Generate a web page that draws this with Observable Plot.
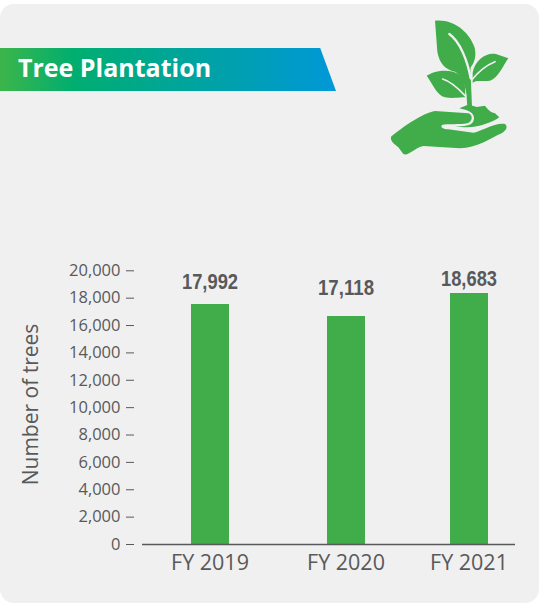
<!DOCTYPE html>
<html><head><meta charset="utf-8">
<script src="https://cdn.jsdelivr.net/npm/d3@7"></script>
<script src="https://cdn.jsdelivr.net/npm/@observablehq/plot@0.6"></script>
<style>
html,body{margin:0;padding:0;background:#fff;}
body{width:539px;height:603px;overflow:hidden;position:relative;}
#card{position:absolute;left:0;top:4px;width:539px;height:599px;background:#f0f0f0;border-radius:14px;overflow:hidden;}
#banner{position:absolute;left:0;top:43.5px;width:336px;height:43.5px;
background:linear-gradient(90deg,#3cb54a 0%,#00ae70 22%,#0098d8 100%);
clip-path:polygon(0 0,320px 0,336px 100%,0 100%);}
#banner span{position:absolute;left:18px;top:-2px;font:700 25px/42px "Open Sans",sans-serif;color:#fff;}
#icon{position:absolute;left:380px;top:6px;}
#chart{position:absolute;left:0;top:246px;}
</style></head>
<body>
<div id="card">
<div id="banner"><span>Tree Plantation</span></div>
<svg id="icon" width="140" height="150" viewBox="0 0 420 450">
<g fill="#40ad4a">
<path d="M165 32C215 26 265 60 283 110C290 135 285 155 272 172L268 230L272 245L264 262C250 215 250 200 225 185C195 178 178 160 172 125Z"/>
<path d="M278 188C285 150 320 125 350 133L385 145C370 165 355 205 330 212C310 216 290 208 278 218Z"/>
<path d="M140 197C165 180 215 175 240 195C256 210 257 235 255 262C245 262 215 266 195 262C170 255 160 225 140 197Z"/>
<path d="M256 200L272 196L276 290L262 292Z"/>
<path d="M238 295L262 285L278 287L290 291L315 287C325 300 330 305 345 310L358 322C340 335 300 352 262 352C250 352 235 350 225 347C260 352 282 345 282 325C282 310 270 302 238 295Z"/>
<path d="M33 380C70 350 130 308 165 303L265 310C280 315 278 335 262 340C240 345 200 340 186 345C180 352 190 358 205 358L280 368C300 365 350 335 375 342C385 350 378 362 365 370C330 385 290 415 240 415L130 408C105 412 85 440 70 432L55 412C45 402 30 395 33 380Z"/>
</g>
<g fill="none" stroke="#f0f0f0" stroke-linecap="round">
<path d="M208 72C240 95 262 150 272 205" stroke-width="7"/>
<path d="M275 210C295 185 320 165 345 155" stroke-width="5"/>
<path d="M188 207C215 215 235 235 256 258" stroke-width="5"/>
</g>
</svg>
</div>
<div id="chart"></div>
<script>
const fiscalYears = [2019, 2020, 2021];
const printedValues = [17992, 17118, 18683];
const barHeights = [17540, 16660, 18340];
const labelLevels = [19220, 18780, 19440];
const yTicks = [0, 2000, 4000, 6000, 8000, 10000, 12000, 14000, 16000, 18000, 20000];
const yTitle = ["Number of trees"];
const yTitleLevel = 10230;
const rows = fiscalYears.map((year, i) => ({year, bar: barHeights[i], printed: printedValues[i], level: labelLevels[i]}));
const ink = "#58595b";
const chart = Plot.plot({
  width: 539, height: 357,
  marginLeft: 134, marginRight: 24, marginTop: 20, marginBottom: 59,
  style: {background: "transparent", color: ink, fontFamily: '"Open Sans",sans-serif', overflow: "visible"},
  x: {type: "linear", domain: fiscalYears, range: [209.5, 345.5, 468.5]},
  y: {domain: [0, 20000], range: [298, 24.3]},
  marks: [
    Plot.ruleX(rows, {x: "year", y1: 0, y2: "bar", stroke: "#40ad4a", strokeWidth: 38}),
    Plot.ruleY([0], {stroke: ink, strokeWidth: 1.4, insetLeft: 8}),
    Plot.axisY(yTicks, {tickSize: 8, tickPadding: 6, fontSize: 16.5, label: null, stroke: ink, tickFormat: d3.format(",")}),
    Plot.axisX(fiscalYears, {tickSize: 0, tickPadding: 10, fontSize: 21.5, label: null, fill: ink, tickFormat: d => "FY " + d}),
    Plot.text(yTitle, {y: () => yTitleLevel, frameAnchor: "left", textAnchor: "middle", dx: -103, rotate: -90, fontSize: 21, fill: ink}),
    Plot.text(rows, {x: "year", y: "level", text: d => d3.format(",")(d.printed), fontSize: 22, fontWeight: 700, fontFamily: '"Liberation Sans",sans-serif', fill: ink, className: "value-label"})
  ]
});
d3.select(chart).selectAll(".value-label text").attr("textLength", 56).attr("lengthAdjust", "spacingAndGlyphs");
document.getElementById("chart").appendChild(chart);
</script>
</body></html>
